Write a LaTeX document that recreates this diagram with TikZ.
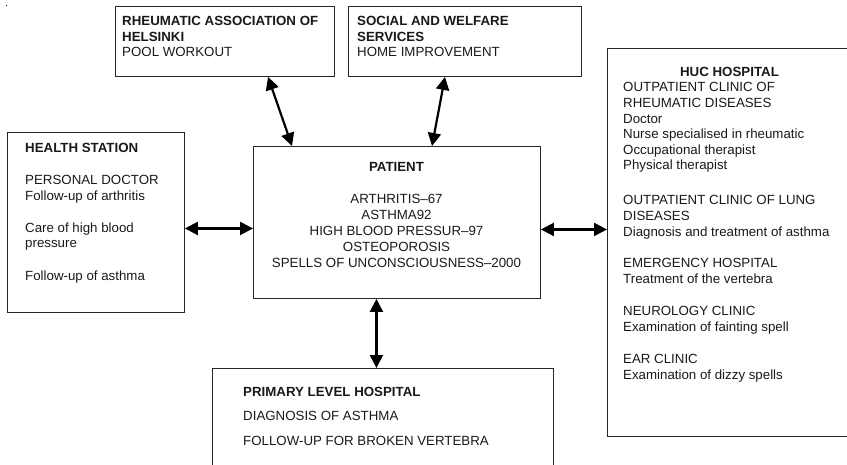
\documentclass[tikz,border=0pt]{standalone}
\usepackage{fontspec}
\setmainfont{Liberation Sans}
\usetikzlibrary{arrows.meta,calc}
\tikzset{
  box/.style={draw=black!85, line width=0.9pt, rectangle, inner sep=0pt, anchor=north west},
  txt/.style={inner sep=0pt, font=\fontsize{13.3}{15.3}\selectfont, text=black!90},
  txtl/.style={txt, anchor=north west, align=left},
  txtc/.style={txt, anchor=north, align=center},
  biarrow/.style={line width=2.2pt, black, {Triangle[length=13pt,width=13pt]}-{Triangle[length=13pt,width=13pt]}}
}
\begin{document}
\begin{tikzpicture}[x=1pt,y=-1pt]
\useasboundingbox (0,0) rectangle (847,464);
\fill[black] (5.5,4.5) rectangle (7,6);
% boxes
\node[box, minimum width=219pt, minimum height=70pt] (rheum) at (115,6) {};
\node[box, minimum width=233pt, minimum height=70pt] (social) at (348,6) {};
\node[box, minimum width=245pt, minimum height=388pt] (huc) at (607,48) {};
\node[box, minimum width=177pt, minimum height=180pt] (health) at (7,132) {};
\node[box, minimum width=287pt, minimum height=152pt] (patient) at (253,146) {};
\node[box, minimum width=341pt, minimum height=110pt] (primary) at (212,368) {};
% texts
\node[txtl] (trheum) at (122,16.5) {\textbf{RHEUMATIC ASSOCIATION OF}\\\textbf{HELSINKI}\\POOL WORKOUT};
\node[txtl] (tsocial) at (357,16.5) {\textbf{SOCIAL AND WELFARE}\\\textbf{SERVICES}\\HOME IMPROVEMENT};
\node[txtc] (thuc) at (729.5,67) {\textbf{HUC HOSPITAL}};
\node[txtl, font=\fontsize{13.3}{15.6}\selectfont] (thucb) at (623,82.5) {OUTPATIENT CLINIC OF\\RHEUMATIC DISEASES\\Doctor\\Nurse specialised in rheumatic\\Occupational therapist\\Physical therapist\\[19.4pt]
OUTPATIENT CLINIC OF LUNG\\DISEASES\\Diagnosis and treatment of asthma\\[16.2pt]
EMERGENCY HOSPITAL\\Treatment of the vertebra\\[16.8pt]
NEUROLOGY CLINIC\\Examination of fainting spell\\[16.8pt]
EAR CLINIC\\Examination of dizzy spells};
\node[txtl] (thealth) at (25,143.5) {\textbf{HEALTH STATION}};
\node[txtl] (thealthb) at (25,175.5) {PERSONAL DOCTOR\\Follow-up of arthritis\\[17pt]Care of high blood\\pressure\\[17pt]Follow-up of asthma};
\node[txtc] (tpatient) at (396.5,162.5) {\textbf{PATIENT}};
\node[txtc, font=\fontsize{13.3}{16}\selectfont] (tpatientb) at (396.5,194.5) {ARTHRITIS–67\\ASTHMA92\\HIGH BLOOD PRESSUR–97\\OSTEOPOROSIS\\SPELLS OF UNCONSCIOUSNESS–2000};
\node[txtl] (tprimary) at (243,387.5) {\textbf{PRIMARY LEVEL HOSPITAL}};
\node[txtl, font=\fontsize{13.3}{24.5}\selectfont] (tprimaryb) at (243,411.5) {DIAGNOSIS OF ASTHMA\\FOLLOW-UP FOR BROKEN VERTEBRA};
% connectors
\draw[biarrow] ([yshift=-6pt]health.east) -- ([yshift=-6pt]patient.west);
\draw[biarrow] ([yshift=-7pt]patient.east) -- ([yshift=-7pt]patient.east -| huc.west);
\draw[biarrow] ([xshift=-20.5pt]patient.south) -- ([xshift=-20.5pt]patient.south |- primary.north);
\draw[biarrow] ([xshift=153pt]rheum.south west) -- ([xshift=39pt]patient.north west);
\draw[biarrow] ([xshift=97pt]social.south west) -- ([xshift=179pt]patient.north west);
\end{tikzpicture}
\end{document}
